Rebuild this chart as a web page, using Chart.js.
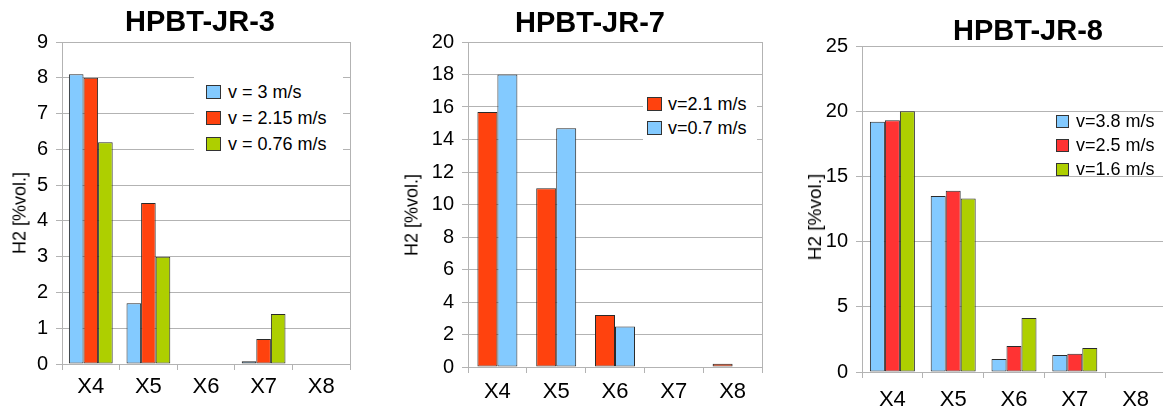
<!DOCTYPE html>
<html>
<head>
<meta charset="utf-8">
<script src="https://cdn.jsdelivr.net/npm/chart.js@4.4.1/dist/chart.umd.min.js"></script>
<style>
html, body { margin: 0; padding: 0; width: 1163px; height: 410px; overflow: hidden; background: #fff; font-family: "Liberation Sans", Arial, sans-serif; }
.caixa { position: absolute; top: 0; height: 410px; }
.legenda { position: absolute; font-size: 18px; color: #000; box-sizing: border-box; }
.legenda .linha { display: flex; align-items: center; white-space: nowrap; }
.legenda .cor { display: inline-block; box-sizing: border-box; border: 1px solid #333; }
.eixo_y { position: absolute; white-space: nowrap; color: #000; transform: translate(-50%, -50%) rotate(-90deg); }
</style>
</head>
<body>
<div class="caixa" style="left:0;width:400px"><canvas id="grafico1" width="400" height="410"></canvas></div>
<div class="caixa" style="left:390px;width:400px"><canvas id="grafico2" width="400" height="410"></canvas></div>
<div class="caixa" style="left:780px;width:496px"><canvas id="grafico3" width="496" height="410"></canvas></div>
<div class="eixo_y" id="eixo1" style="left:20px;top:213px;font-size:18px"></div>
<div class="eixo_y" id="eixo2" style="left:412px;top:215px;font-size:18px"></div>
<div class="eixo_y" id="eixo3" style="left:815px;top:217px;font-size:19px"></div>
<div class="legenda" id="legenda1" style="left:194px;top:75px;width:149px;padding:4px 0 4px 12px;background:#fff"></div>
<div class="legenda" id="legenda2" style="left:643px;top:88px;width:114px;padding:4px 0 4px 4px;background:#fff"></div>
<div class="legenda" id="legenda3" style="left:1056px;top:109px;width:107px"></div>
<script>
const categorias = ["X4", "X5", "X6", "X7", "X8"]

// HPBT-JR-3
const rotulosJR3 = ["v = 3 m/s", "v = 2.15 m/s", "v = 0.76 m/s"]
const jr3_v300 = [8.1, 1.7, 0, 0.08, 0]
const jr3_v215 = [8.0, 4.5, 0, 0.7, 0]
const jr3_v076 = [6.2, 3.0, 0, 1.4, 0]

// HPBT-JR-7
const rotulosJR7 = ["v=2.1 m/s", "v=0.7 m/s"]
const jr7_v21 = [15.7, 11.0, 3.2, 0, 0.2]
const jr7_v07 = [18.0, 14.7, 2.5, 0, 0]

// HPBT-JR-8
const rotulosJR8 = ["v=3.8 m/s", "v=2.5 m/s", "v=1.6 m/s"]
const jr8_v38 = [19.2, 13.5, 1.0, 1.3, 0]
const jr8_v25 = [19.3, 13.9, 2.0, 1.4, 0]
const jr8_v16 = [20.0, 13.3, 4.15, 1.85, 0]

const tituloEixoY = "H2 [%vol.]"

const azul = "#83CAFF"
const laranja = "#FF420E"
const verde = "#AECF00"
const vermelho = "#FF3333"
const cinza = "#b3b3b3"

Chart.defaults.font.family = "'Liberation Sans', Arial, sans-serif"
Chart.defaults.color = "#000"

function fazerGrafico(id, titulo, series, cores, rotulos, opc) {
    const grafico = document.getElementById(id)
    return new Chart(grafico, {
        type: 'bar',
        data: {
            labels: categorias,
            datasets: series.map((s, i) => ({
                label: rotulos[i],
                data: s,
                backgroundColor: cores[i],
                borderColor: "#2a2a2a",
                borderWidth: 1,
                borderSkipped: false,
                categoryPercentage: opc.cat,
                barPercentage: 1
            }))
        },
        options: {
            responsive: false,
            animation: false,
            layout: { padding: 0 },
            plugins: {
                legend: { display: false },
                tooltip: { enabled: false },
                title: {
                    display: true,
                    text: titulo,
                    color: "#000",
                    font: { size: 29, weight: 'bold', lineHeight: 1 },
                    padding: { top: opc.tituloTopo, bottom: opc.tituloBase }
                }
            },
            scales: {
                x: {
                    grid: { drawOnChartArea: false, color: cinza, tickLength: 6, offset: true },
                    border: { color: cinza },
                    ticks: { color: "#000", font: { size: 22 }, padding: opc.padX },
                    afterFit: (s) => { s.height = opc.alturaX }
                },
                y: {
                    min: 0,
                    max: opc.max,
                    ticks: { stepSize: opc.passo, color: "#000", font: { size: 20 }, padding: 8 },
                    grid: { color: cinza, tickLength: 6 },
                    border: { color: cinza },
                    afterFit: (s) => { s.width = opc.larguraY }
                },
                // so para desenhar a borda direita da area do grafico
                y2: {
                    position: 'right',
                    grid: { drawOnChartArea: false, drawTicks: false },
                    ticks: { display: false },
                    border: { color: cinza },
                    afterFit: (s) => { s.width = opc.direita }
                }
            }
        }
    })
}

function fazerLegenda(id, rotulos, cores, opc) {
    const el = document.getElementById(id)
    rotulos.forEach((r, i) => {
        const linha = document.createElement("div")
        linha.className = "linha"
        linha.style.height = opc.altura + "px"
        const cor = document.createElement("span")
        cor.className = "cor"
        cor.style.width = opc.w + "px"
        cor.style.height = opc.h + "px"
        cor.style.marginRight = opc.gap + "px"
        cor.style.backgroundColor = cores[i]
        const txt = document.createElement("span")
        txt.innerText = r
        linha.appendChild(cor)
        linha.appendChild(txt)
        el.appendChild(linha)
    })
}

const cores3 = [azul, laranja, verde]
const cores7 = [laranja, azul]
const cores8 = [azul, vermelho, verde]

fazerGrafico("grafico1", "HPBT-JR-3", [jr3_v300, jr3_v215, jr3_v076], cores3, rotulosJR3,
    { cat: 0.76, direita: 50, tituloTopo: 8, tituloBase: 5, alturaX: 46, padX: 4, max: 9, passo: 1, larguraY: 62 })
fazerGrafico("grafico2", "HPBT-JR-7", [jr7_v21, jr7_v07], cores7, rotulosJR7,
    { cat: 0.68, direita: 28, tituloTopo: 9, tituloBase: 4, alturaX: 43, padX: 6, max: 20, passo: 2, larguraY: 78 })
fazerGrafico("grafico3", "HPBT-JR-8", [jr8_v38, jr8_v25, jr8_v16], cores8, rotulosJR8,
    { cat: 0.74, direita: 110, tituloTopo: 17, tituloBase: 0, alturaX: 38, padX: 9, max: 25, passo: 5, larguraY: 82 })

document.querySelectorAll(".eixo_y").forEach((el) => { el.innerText = tituloEixoY })

fazerLegenda("legenda1", rotulosJR3, cores3, { altura: 26, w: 15, h: 14, gap: 7 })
fazerLegenda("legenda2", rotulosJR7, cores7, { altura: 24, w: 15, h: 14, gap: 6 })
fazerLegenda("legenda3", rotulosJR8, cores8, { altura: 24, w: 13, h: 13, gap: 7 })
</script>
</body>
</html>
